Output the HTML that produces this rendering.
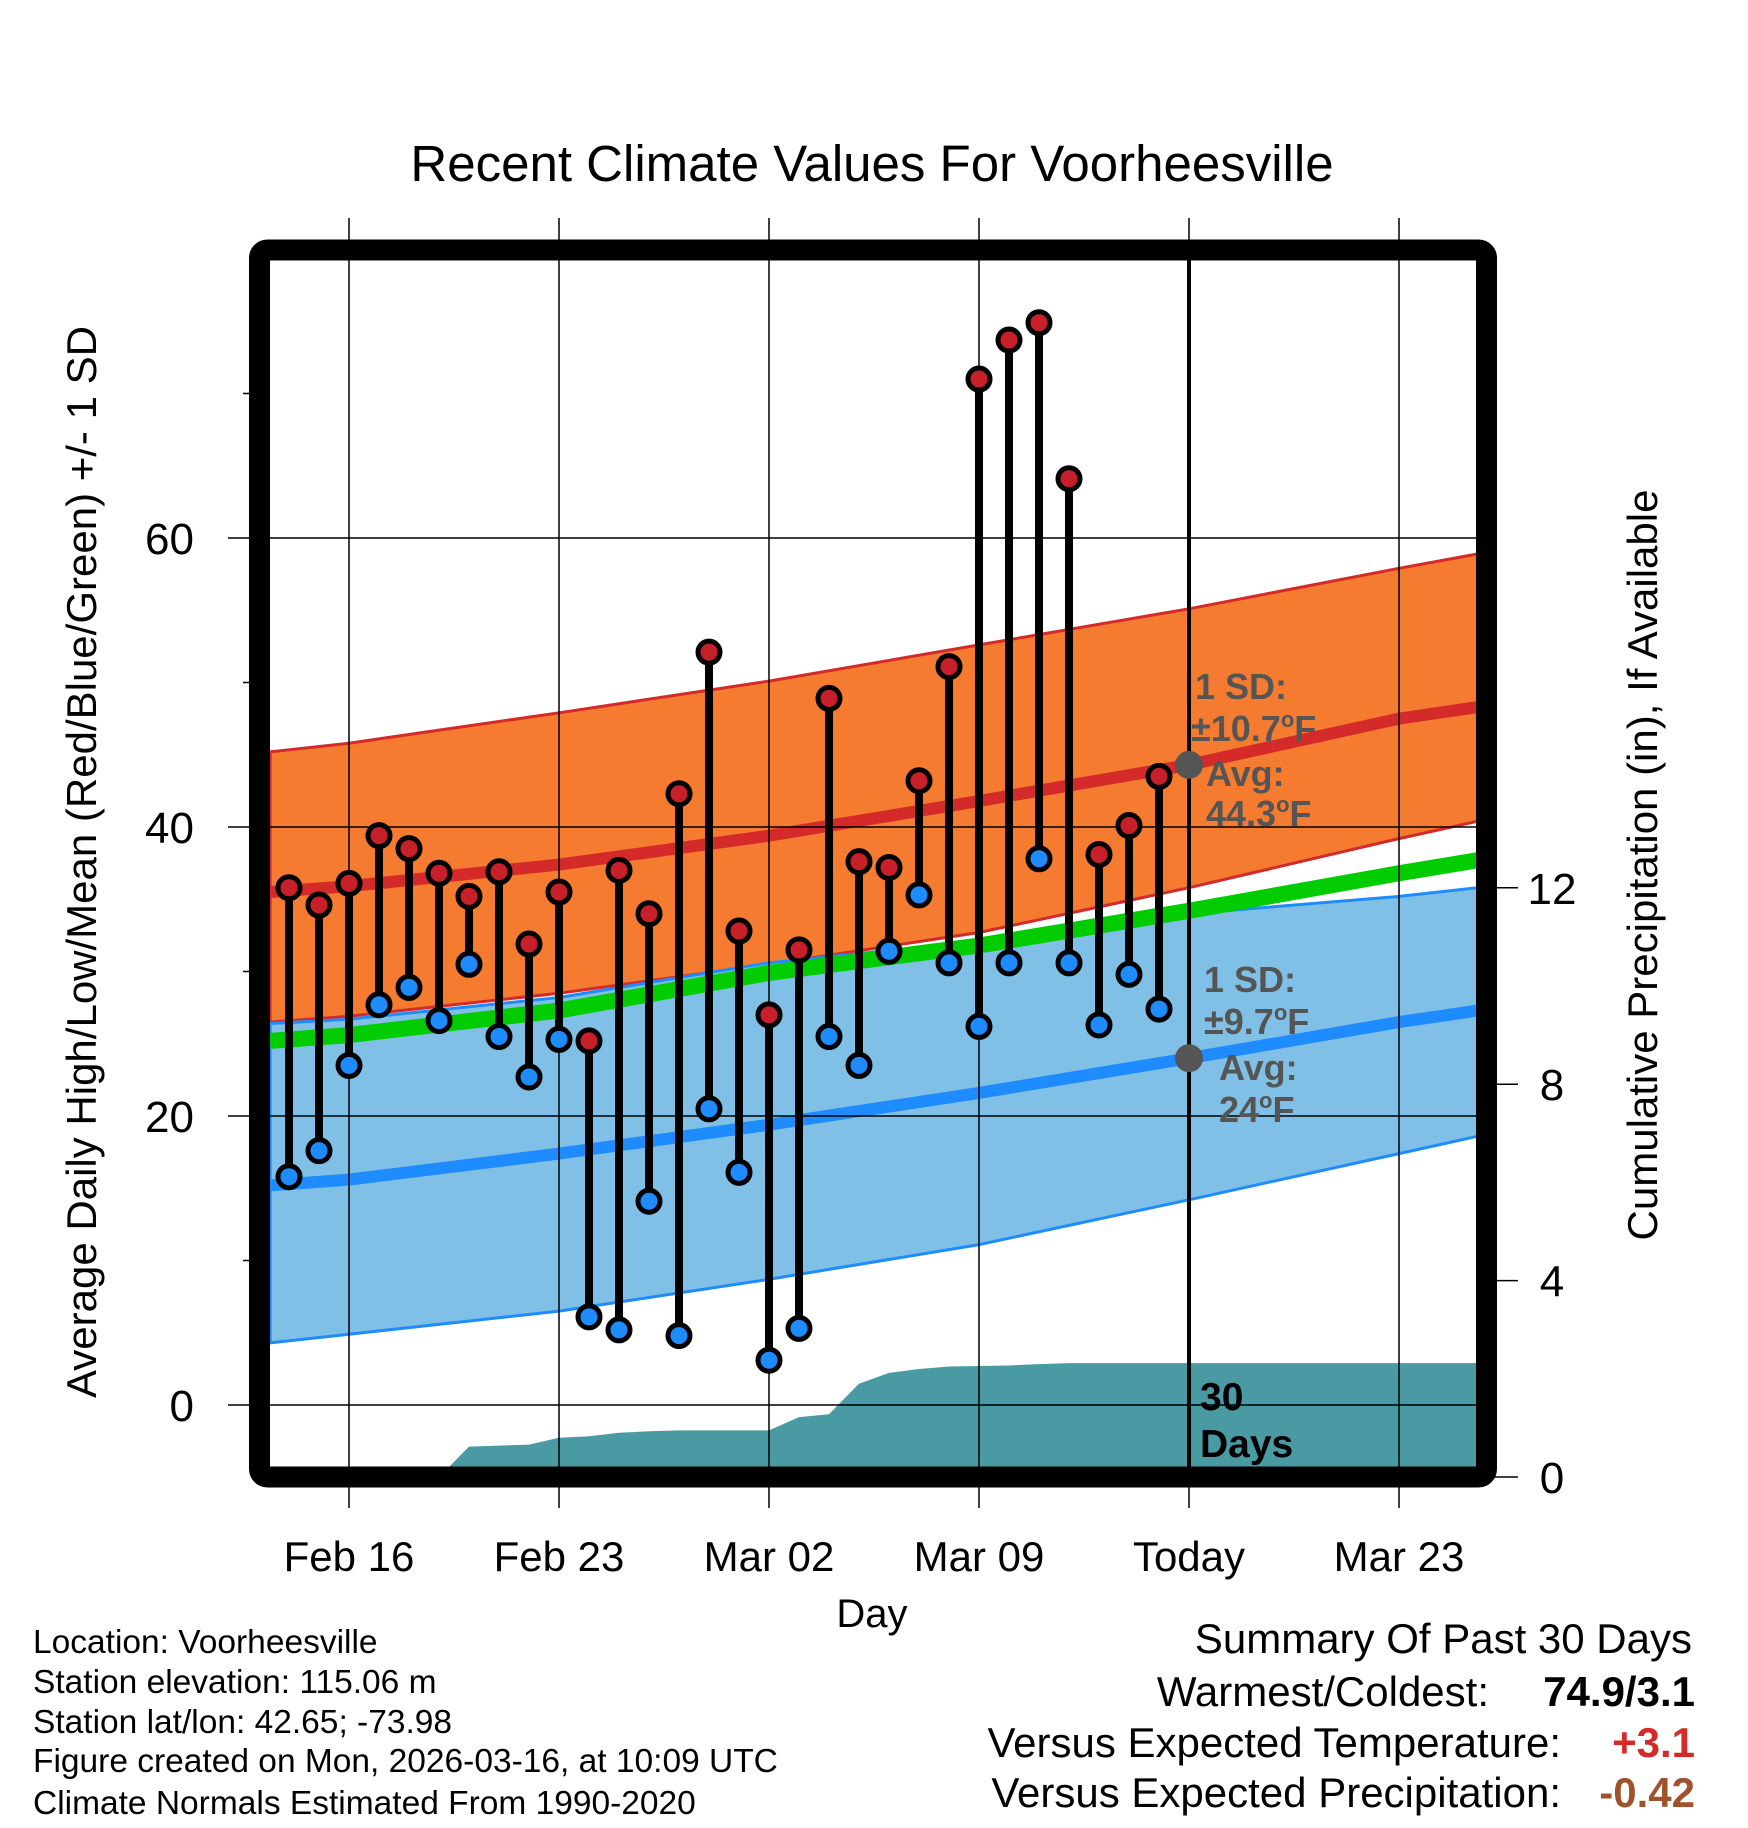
<!DOCTYPE html>
<html><head><meta charset="utf-8"><style>
body{margin:0;background:#fff}
svg{display:block;font-family:"Liberation Sans",Arial,sans-serif}
</style></head><body>
<svg id="c" width="1748" height="1828" viewBox="0 0 1748 1828" xmlns="http://www.w3.org/2000/svg">
<defs><clipPath id="pc"><rect x="270" y="260" width="1207" height="1207"/></clipPath></defs>
<text x="872" y="181" font-size="51" text-anchor="middle">Recent Climate Values For Voorheesville</text>
<g id="bg" clip-path="url(#pc)"></g>
<g id="grid"></g>
<g id="marks"></g>
<rect x="259.5" y="250" width="1227" height="1227" rx="8" fill="none" stroke="#000" stroke-width="21"/>
<text x="96" y="862" font-size="42" text-anchor="middle" transform="rotate(-90 96 862)">Average Daily High/Low/Mean (Red/Blue/Green) +/- 1 SD</text>
<text x="1657" y="865" font-size="42" text-anchor="middle" transform="rotate(-90 1657 865)">Cumulative Precipitation (in), If Available</text>
<text x="872" y="1627" font-size="40" text-anchor="middle">Day</text>
<g font-size="33.5">
<text x="33" y="1653">Location: Voorheesville</text>
<text x="33" y="1693">Station elevation: 115.06 m</text>
<text x="33" y="1733">Station lat/lon: 42.65; -73.98</text>
<text x="33" y="1772">Figure created on Mon, 2026-03-16, at 10:09 UTC</text>
<text x="33" y="1814">Climate Normals Estimated From 1990-2020</text>
</g>
<g font-size="42" text-anchor="end">
<text x="1692" y="1653">Summary Of Past 30 Days</text>
<text x="1489" y="1706">Warmest/Coldest:</text>
<text x="1695" y="1706" font-weight="bold">74.9/3.1</text>
<text x="1561" y="1757">Versus Expected Temperature:</text>
<text x="1695" y="1757" font-weight="bold" fill="#d42a2a">+3.1</text>
<text x="1561" y="1807">Versus Expected Precipitation:</text>
<text x="1695" y="1807" font-weight="bold" fill="#a0522d">-0.42</text>
</g>
</svg>
<script>
// days relative to Feb 16
const obsDays=[-2,-1,0,1,2,3,4,5,6,7,8,9,10,11,12,13,14,15,16,17,18,19,20,21,22,23,24,25,26,27];
const highs=[35.8,34.6,36.1,39.4,38.5,36.8,35.2,36.9,31.9,35.5,25.2,37.0,34.0,42.3,52.1,32.8,27.0,31.5,48.9,37.6,37.2,43.2,51.1,71.0,73.7,74.9,64.1,38.1,40.1,43.5];
const lows=[15.8,17.6,23.5,27.7,28.9,26.6,30.5,25.5,22.7,25.3,6.1,5.2,14.1,4.8,20.5,16.1,3.1,5.3,25.5,23.5,31.4,35.3,30.6,26.2,30.6,37.8,30.6,26.3,29.8,27.4];
const precip=[0,0,0,0,0,0,0.62,0.64,0.66,0.8,0.83,0.9,0.93,0.95,0.95,0.95,0.95,1.22,1.28,1.9,2.12,2.2,2.25,2.26,2.27,2.3,2.32,2.32,2.32,2.32];
const normDays=[-2.63,0,7,14,21,28,35,37.63];
const normHigh=[35.5,35.9,37.4,39.4,41.8,44.3,47.5,48.3];
const normHighUp=[45.2,45.8,47.9,50.1,52.6,55.1,57.9,58.9];
const normHighLo=[26.5,26.9,28.5,30.5,32.7,35.8,39.2,40.4];
const normMean=[25.2,25.6,27.3,29.9,31.8,34.2,36.8,37.7];
const normLow=[15.2,15.6,17.4,19.4,21.6,24.0,26.5,27.3];
const normLowUp=[26.4,26.7,28.2,30.6,32.1,34.0,35.2,35.8];
const normLowLo=[4.3,4.9,6.5,8.7,11.1,14.2,17.4,18.6];
const xTickDays=[0,7,14,21,28,35];
const xTickLabels=["Feb 16","Feb 23","Mar 02","Mar 09","Today","Mar 23"];
const yTicks=[0,20,40,60];
const yMinor=[10,30,50,70];
const pTicks=[0,4,8,12];
const todayDay=28, todayHigh=44.3, todayLow=24.0;

const X=d=>349+d*30;
const Y=t=>1405-t*14.45;
const P=p=>1477-p*49.1;
const NS="http://www.w3.org/2000/svg";
function mk(parent,tag,attrs){const e=document.createElementNS(NS,tag);for(const k in attrs)e.setAttribute(k,attrs[k]);document.getElementById(parent).appendChild(e);return e;}
const pts=(ds,vs,f)=>ds.map((d,i)=>X(d).toFixed(1)+","+f(vs[i]).toFixed(1));

let e;
e=mk('bg','polygon',{points:pts(normDays,normHighUp,Y).concat(pts(normDays,normHighLo,Y).reverse()).join(' '),fill:'#f47b2f',stroke:'#d42a2a','stroke-width':3});


e=mk('bg','polygon',{points:pts(normDays,normLowUp,Y).concat(pts(normDays,normLowLo,Y).reverse()).join(' '),fill:'#80c0e6',stroke:'#1e8cff','stroke-width':3});


e=mk('bg','polyline',{points:pts(normDays,normMean,Y).join(' '),fill:'none',stroke:'#00cc00','stroke-width':16});


e=mk('bg','polyline',{points:pts(normDays,normHigh,Y).join(' '),fill:'none',stroke:'#d42a2a','stroke-width':12});


e=mk('bg','polyline',{points:pts(normDays,normLow,Y).join(' '),fill:'none',stroke:'#1e8cff','stroke-width':12});


const pp=[X(-2.63)+","+P(0)].concat(pts(obsDays,precip,P)).concat([X(37.63)+","+P(precip[precip.length-1]),X(37.63)+","+P(0)]);
e=mk('bg','polygon',{points:pp.join(' '),fill:'#4a9aa4'});



xTickDays.forEach((d,i)=>{
 const g=mk('grid','line',{x1:X(d),x2:X(d),y1:218,y2:1508,stroke:'#000','stroke-width':1.5});
 
 
 const t=mk('grid','text',{x:X(d),y:1571,'font-size':42,'text-anchor':'middle'});t.textContent=xTickLabels[i];
 
 
});
yTicks.forEach(v=>{
 const g=mk('grid','line',{x1:228,x2:1477,y1:Y(v),y2:Y(v),stroke:'#000','stroke-width':1.5});
 
 
 const t=mk('grid','text',{x:194,y:Y(v)+16,'font-size':44,'text-anchor':'end'});t.textContent=v;
 
 
});
yMinor.forEach(v=>{
 const g=mk('grid','line',{x1:243,x2:250,y1:Y(v),y2:Y(v),stroke:'#000','stroke-width':1.5});
 
 
});
pTicks.forEach(v=>{
 const g=mk('grid','line',{x1:1490,x2:1518,y1:P(v),y2:P(v),stroke:'#000','stroke-width':1.5});
 
 
 const t=mk('grid','text',{x:1552,y:P(v)+16,'font-size':44,'text-anchor':'middle'});t.textContent=v;
 
 
});

e=mk('marks','line',{x1:X(todayDay),x2:X(todayDay),y1:260,y2:1467,stroke:'#000','stroke-width':4});


e=mk('marks','circle',{cx:X(todayDay),cy:Y(todayHigh),r:14,fill:'#555'});


e=mk('marks','circle',{cx:X(todayDay),cy:Y(todayLow),r:14,fill:'#555'});



obsDays.forEach((d,i)=>{
 const b=mk('marks','line',{x1:X(d),x2:X(d),y1:Y(highs[i]),y2:Y(lows[i]),stroke:'#000','stroke-width':8});
 
 
});
obsDays.forEach((d,i)=>{
 const h=mk('marks','circle',{cx:X(d),cy:Y(highs[i]),r:11,fill:'#c8202a',stroke:'#000','stroke-width':5});
 
 
 const l=mk('marks','circle',{cx:X(d),cy:Y(lows[i]),r:11,fill:'#1e8cff',stroke:'#000','stroke-width':5});
 
 
});

function lab(x,y,txt,name,size,col){const t=mk('marks','text',{x:x,y:y,'font-size':size,'font-weight':'bold',fill:col});t.innerHTML=txt;
 
 }
const deg='<tspan font-size="22" dy="-14">o</tspan><tspan dy="14">F</tspan>';
lab(1195,699,'1 SD:','high-sd-label',36,'#555');
lab(1191,741,'±10.7'+deg,'high-sd-value',36,'#555');
lab(1206,786,'Avg:','high-avg-label',36,'#555');
lab(1206,826,'44.3'+deg,'high-avg-value',36,'#555');
lab(1204,992,'1 SD:','low-sd-label',36,'#555');
lab(1204,1034,'±9.7'+deg,'low-sd-value',36,'#555');
lab(1219,1080,'Avg:','low-avg-label',36,'#555');
lab(1219,1122,'24'+deg,'low-avg-value',36,'#555');
lab(1200,1410,'30','precip-days-label',39,'#000');
lab(1200,1457,'Days','precip-days-unit',39,'#000');
</script>
</body></html>
